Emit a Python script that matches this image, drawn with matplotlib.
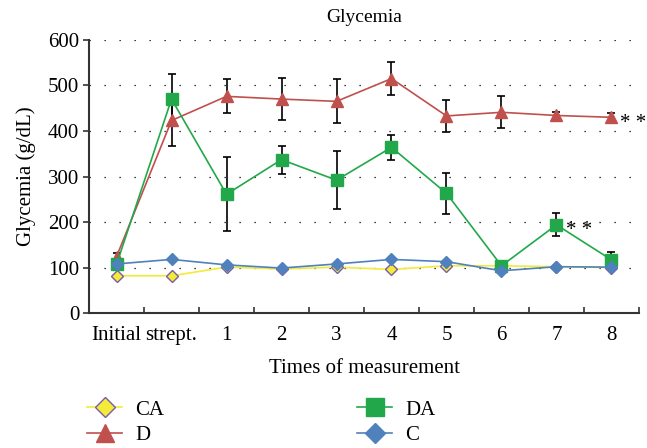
import matplotlib
matplotlib.use("Agg")
import matplotlib.pyplot as plt
import numpy as np

plt.rcParams['font.family'] = ['Liberation Serif', 'DejaVu Serif']

categories = ["Initial", "strept.", "1", "2", "3", "4", "5", "6", "7", "8"]
CA = [82, 82, 101, 97, 101, 96, 104, 104, 102, 100]
D = [124, 423, 476, 470, 465, 515, 433, 441, 434, 430]
D_err = [8, 56, 37, 47, 48, 37, 36, 35, 8, 10]
DA = [107, 470, 261, 337, 292, 364, 263, 104, 194, 117]
DA_err = [5, 56, 81, 31, 63, 27, 45, 8, 25, 18]
C = [108, 118, 106, 99, 108, 118, 113, 93, 102, 101]

FS = 15

fig = plt.figure(figsize=(6.47, 4.48), dpi=100)
ax = fig.add_axes([0.1376, 0.301, 0.85, 0.61])
x = np.arange(len(categories)) + 0.5

for y in range(100, 601, 100):
    ax.axhline(y, color='black', linestyle=(0, (1, 11)), linewidth=0.9, zorder=0)

ax.errorbar(x, D, yerr=D_err, fmt='none', ecolor='black', elinewidth=1.2, capsize=3, capthick=1.2, zorder=2)
ax.errorbar(x, DA, yerr=DA_err, fmt='none', ecolor='black', elinewidth=1.2, capsize=3, capthick=1.2, zorder=2)

lCA, = ax.plot(x, CA, color='#F2EB3A', marker='D', markersize=6.5, markerfacecolor='#F2EB3A',
               markeredgecolor='#7B5BA8', markeredgewidth=1, linewidth=1.2, label='CA', zorder=3)
lD, = ax.plot(x, D, color='#C0504D', marker='^', markersize=9, markeredgecolor='#C0504D',
              linewidth=1.2, label='D', zorder=4)
lDA, = ax.plot(x, DA, color='#22A84A', marker='s', markersize=8.5, markeredgecolor='#22A84A',
               linewidth=1.2, label='DA', zorder=4)
lC, = ax.plot(x, C, color='#4F81BD', marker='D', markersize=6.5, markeredgecolor='#4F81BD',
              linewidth=1.2, label='C', zorder=5)

ax.annotate('* *', xy=(x[9], D[9]), xytext=(6, -7.5), textcoords='offset points',
            fontsize=FS, va='baseline', ha='left')
ax.annotate('* *', xy=(x[8], DA[8]), xytext=(7, -7.5), textcoords='offset points',
            fontsize=FS, va='baseline', ha='left')

ax.set_xlim(0, len(categories))
ax.set_ylim(0, 600)
ax.set_xticks(np.arange(0, len(categories) + 1))
ax.set_xticklabels([])
ax.set_xticks(x, minor=True)
ax.set_xticklabels(categories, minor=True, fontsize=FS)
ax.tick_params(axis='x', which='minor', length=0, pad=9)
ax.tick_params(axis='x', which='major', direction='in', length=4, width=1.2, color='#333333')
ax.set_yticks(range(0, 601, 100))
ax.tick_params(axis='y', direction='out', length=4, width=1.2, color='#333333', labelsize=FS, pad=3)

for s in ['top', 'right']:
    ax.spines[s].set_visible(False)
for s in ['left', 'bottom']:
    ax.spines[s].set_color('#333333')
    ax.spines[s].set_linewidth(1.5)

ax.set_title('Glycemia', fontsize=14, pad=13)
ax.set_ylabel('Glycemia (g/dL)', fontsize=FS, labelpad=9)
ax.set_xlabel('Times of measurement', fontsize=FS, labelpad=10)

common = dict(loc='upper left', frameon=False, fontsize=FS, handlelength=1.7,
              handletextpad=0.6, labelspacing=0.3, borderpad=0, borderaxespad=0,
              markerscale=1.5)
leg1 = fig.legend(handles=[lCA, lD], labels=['CA', 'D'],
                  bbox_to_anchor=(87 / 647, 1 - 400 / 448), **common)
leg2 = fig.legend(handles=[lDA, lC], labels=['DA', 'C'],
                  bbox_to_anchor=(357 / 647, 1 - 400 / 448), **common)

fig.savefig('out.png', dpi=100)
